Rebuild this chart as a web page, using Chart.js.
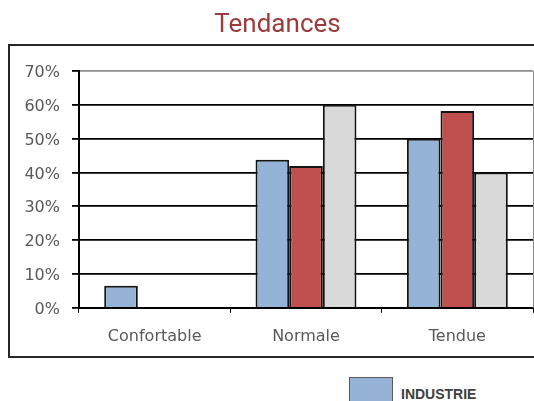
<!DOCTYPE html>
<html>
<head>
<meta charset="utf-8">
<title>Tendances</title>
<script src="https://cdn.jsdelivr.net/npm/chart.js@4.4.1/dist/chart.umd.min.js"></script>
<style>
    body { margin: 0; background: #fff; overflow: hidden; }
    #wrap { position: relative; width: 560px; height: 401px; }
    #chartBox { position: absolute; left: 0; top: 0; width: 560px; height: 370px; }
    #frame {
        position: absolute; left: 8px; top: 44px; width: 600px; height: 314px;
        border: 2px solid #262626; box-sizing: border-box; pointer-events: none;
    }
    #legend { position: absolute; left: 349px; top: 377px; margin: 0; padding: 0; list-style: none; }
    #legend li { display: flex; align-items: center; margin-bottom: 10px; }
    #legend .key { width: 44px; height: 34px; box-sizing: border-box; border: 1px solid #595959; margin-right: 8px; }
    #legend .txt { font: bold 14px "Liberation Sans", Arial, sans-serif; color: #404040; }
</style>
</head>
<body>
<div id="wrap">
    <div id="chartBox"><canvas id="chart"></canvas></div>
    <div id="frame"></div>
    <ul id="legend"></ul>
</div>
<script>
// Categories and series (values in %)
const categories = ['Confortable', 'Normale', 'Tendue'];
const seriesNames = ['INDUSTRIE', 'BTP', 'SERVICES'];
const industrie = [6.5, 43.8, 50];
const btp = [0, 41.9, 58.2];
const services = [0, 60, 40];
const yTicks = [0, 10, 20, 30, 40, 50, 60, 70];

const colors = ['#95b3d7', '#c0504d', '#d9d9d9'];

// Draw the grey right edge of the plot area
const plotBorder = {
    id: 'plotBorder',
    afterDraw(chart) {
        const { ctx, chartArea } = chart;
        ctx.save();
        ctx.strokeStyle = '#8c8c8c';
        ctx.lineWidth = 1;
        ctx.beginPath();
        ctx.moveTo(chartArea.right + 0.5, chartArea.top);
        ctx.lineTo(chartArea.right + 0.5, chartArea.bottom);
        ctx.stroke();
        ctx.restore();
    }
};

// Build the legend as html under the chart
const htmlLegend = {
    id: 'htmlLegend',
    afterUpdate(chart) {
        const list = document.getElementById('legend');
        list.innerHTML = '';
        chart.data.datasets.forEach(ds => {
            const li = document.createElement('li');
            li.innerHTML = `<span class="key" style="background:${ds.backgroundColor}"></span><span class="txt">${ds.label}</span>`;
            list.appendChild(li);
        });
    }
};

const ctx = document.getElementById('chart').getContext('2d');
new Chart(ctx, {
    type: 'bar',
    data: {
        labels: categories,
        datasets: [industrie, btp, services].map((values, i) => ({
            label: seriesNames[i],
            data: values,
            backgroundColor: colors[i],
            borderColor: '#141414',
            borderWidth: 2,
            categoryPercentage: 0.667,
            barPercentage: 1
        }))
    },
    options: {
        responsive: true,
        maintainAspectRatio: false,
        animation: false,
        layout: { padding: { left: 22, right: 27, top: 0, bottom: 10 } },
        scales: {
            y: {
                min: 0,
                max: 70,
                afterBuildTicks: scale => { scale.ticks = yTicks.map(v => ({ value: v })); },
                afterFit: scale => { scale.width = 57; },
                ticks: {
                    callback: v => v + '%',
                    color: '#595959',
                    padding: 12,
                    labelOffset: 2,
                    font: { family: 'DejaVu Sans', size: 16 }
                },
                grid: {
                    color: c => (c.tick && c.tick.value === 70 ? '#8c8c8c' : '#000'),
                    tickColor: '#000',
                    lineWidth: 1.8,
                    tickLength: 7
                },
                border: { color: '#000', width: 2 }
            },
            x: {
                ticks: {
                    color: '#595959',
                    padding: 14,
                    font: { family: 'DejaVu Sans', size: 16 }
                },
                grid: {
                    drawOnChartArea: false,
                    color: '#000',
                    tickLength: 5
                },
                border: { color: '#000', width: 2 }
            }
        },
        plugins: {
            legend: { display: false },
            tooltip: { enabled: false },
            title: {
                display: true,
                text: 'Tendances',
                color: '#9c3b3b',
                font: { family: 'Roboto', size: 26, weight: 'normal' },
                padding: { top: 10, bottom: 29.8 }
            }
        }
    },
    plugins: [plotBorder, htmlLegend]
});
</script>
</body>
</html>
